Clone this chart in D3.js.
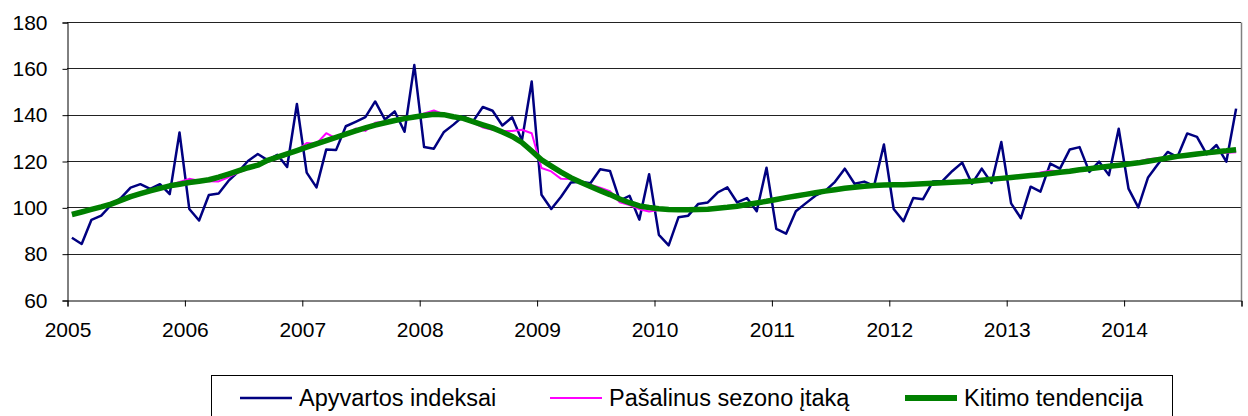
<!DOCTYPE html>
<html lang="lt">
  <head>
    <meta charset="UTF-8" />
    <title>Apyvartos indeksai</title>
    <script src="https://d3js.org/d3.v7.min.js"></script>
    <style>
      body {
        margin: 0;
        background: #fff;
        font-family: Arial, "Liberation Sans", sans-serif;
      }
      svg text {
        fill: #000;
      }
    </style>
  </head>
  <body>
    <svg id="chart" width="1248" height="416"></svg>
    <script>
      // monthly data, 2005-01 .. 2014-12
      const years = [2005, 2006, 2007, 2008, 2009, 2010, 2011, 2012, 2013, 2014];
      const yTicks = [60, 80, 100, 120, 140, 160, 180];

      const apyvarta = [
        86.9, 84.2, 94.6, 96.4, 101, 104, 108.5, 110, 108, 110, 105.7, 132.3,
        99.3, 94.3, 105.3, 106, 111.4, 115.3, 120, 123, 120.4, 122.7, 117.4, 144.6,
        115, 108.6, 125, 124.7, 135, 136.9, 138.9, 145.7, 137.9, 141.4, 132.6, 161.4,
        126, 125.3, 132.4, 135.7, 139.3, 137.1, 143.3, 141.7, 135.3, 138.9, 128.9, 154.3,
        105.4, 99.3, 104.6, 110.7, 111, 110.4, 116.4, 115.7, 102.9, 105, 94.7, 114.3,
        88.1, 83.6, 95.7, 96.4, 101.4, 102.1, 106.4, 108.6, 102.1, 104, 98.3, 117.1,
        90.7, 88.6, 98.3, 101.7, 105, 107.1, 111, 116.7, 110.2, 111.1, 109.3, 127.1,
        99.3, 94, 104, 103.5, 111.1, 111.4, 115.7, 119.3, 110.2, 116.7, 110.5, 128.2,
        101.7, 95.3, 108.9, 106.8, 118.9, 116.7, 125, 126, 115.3, 119.7, 113.9, 133.9,
        108.1, 100, 112.9, 118.6, 123.9, 121.7, 131.9, 130.4, 122.9, 126.9, 119.7, 142.6
      ];

      const besezono = [
        97.5, 98.5, 99.5, 100.5, 102, 103.5, 105, 106, 107, 108.3, 109.5, 111,
        112.3, 111.5, 111.3, 111.2, 113, 115, 116.5, 118, 119.5, 121, 122.5, 124.5,
        127.8, 127.5, 132, 129.8, 131.5, 134, 133, 136.5, 137, 137.2, 138, 139,
        140.5, 141.8, 140.2, 139, 138, 136.5, 134.5, 133.5, 133, 132.9, 133.5, 132,
        117, 115.5, 112.3, 112.2, 111.2, 109.8, 108.5, 107, 102.2, 101, 99.2, 98.2,
        98.8, 98.8, 99, 99, 99.1, 99.3, 99.5, 100, 100.6, 101.2, 101.8, 102.5,
        103.3, 104.2, 105, 105.6, 106.4, 107.2, 107.7, 108.3, 108.8, 109.2, 109.4, 109.5,
        109.6, 109.7, 109.9, 110.1, 110.3, 110.5, 110.8, 111, 111.3, 111.6, 112, 112.4,
        112.9, 113.4, 114, 115, 115.8, 115.6, 115.8, 116.3, 116.6, 117.1, 117.6, 118.2,
        118.6, 119.8, 120.8, 121.2, 121.3, 121.8, 122.4, 122.8, 123.1, 123.5, 123.6, 123.8
      ];

      const tendencija = [
        96.9, 98, 99.1, 100.2, 101.4, 103, 104.6, 105.9, 107.1, 108.2, 109.3, 110,
        110.7, 111.3, 111.9, 113, 114.3, 115.7, 117.1, 118.2, 120.3, 121.7, 123.1, 124.5,
        126, 127.4, 128.8, 130.2, 131.6, 133, 134.3, 135.5, 136.5, 137.5, 138.3, 139,
        139.6, 140.2, 140, 139.1, 138.4, 137, 135.6, 134.3, 132.5, 130.6, 128, 124.3,
        120.5, 117.8, 115.2, 112.8, 110.8, 109, 107.2, 105.5, 103.6, 102, 100.6, 99.9,
        99.4, 99.1, 99, 99, 99.1, 99.2, 99.6, 100, 100.5, 101.2, 101.9, 102.6,
        103.4, 104.2, 104.9, 105.6, 106.3, 107, 107.6, 108.2, 108.7, 109.1, 109.4, 109.6,
        109.7, 109.8, 110, 110.2, 110.4, 110.6, 110.8, 111, 111.3, 111.7, 112.1, 112.5,
        112.9, 113.3, 113.7, 114.1, 114.6, 115.1, 115.6, 116.2, 116.7, 117.2, 117.7, 118.2,
        118.7, 119.2, 119.9, 120.6, 121.3, 122, 122.5, 123, 123.5, 124, 124.4, 124.9
      ];

      const seriesNames = ["Apyvartos indeksai", "Pašalinus sezono įtaką", "Kitimo tendencija"];
      const seriesColors = ["#000080", "#ff00ff", "#008000"];
      const seriesWidths = [2.5, 2, 5.5];
      const series = [apyvarta, besezono, tendencija];

      const svg = d3.select("#chart");
      const plotLeft = 67, plotRight = 1241, plotTop = 22, plotBottom = 300;
      const fontFamily = "Arial, 'Liberation Sans', sans-serif";

      const x = d3.scaleLinear().domain([0, 120]).range([plotLeft, plotRight]);
      const y = d3.scaleLinear().domain([60, 180]).range([plotBottom, plotTop]);

      // gridlines
      svg.append("g")
        .selectAll("line")
        .data(yTicks.slice(1))
        .join("line")
        .attr("x1", plotLeft)
        .attr("x2", plotRight)
        .attr("y1", (d) => Math.round(y(d)) + 0.5)
        .attr("y2", (d) => Math.round(y(d)) + 0.5)
        .attr("stroke", "#222")
        .attr("stroke-width", 1);

      // right frame
      svg.append("line")
        .attr("x1", plotRight + 0.5).attr("x2", plotRight + 0.5)
        .attr("y1", plotTop + 0.5).attr("y2", plotBottom)
        .attr("stroke", "#808080").attr("stroke-width", 1.5);

      // y axis
      const yAxis = d3.axisLeft(y).tickValues(yTicks).tickSize(5).tickPadding(15);
      const gy = svg.append("g")
        .attr("transform", `translate(${plotLeft + 0.5},0.5)`)
        .call(yAxis);
      gy.select(".domain").attr("stroke", "#000");
      gy.selectAll(".tick line").attr("stroke", "#000");
      gy.selectAll("text")
        .attr("font-family", fontFamily)
        .attr("font-size", 21)
        .attr("fill", "#000");

      // x axis: ticks at the start of each year
      const xAxis = d3.axisBottom(x)
        .tickValues(d3.range(0, 121, 12))
        .tickSize(6)
        .tickPadding(16)
        .tickFormat((d) => (d < 120 ? years[d / 12] : ""));
      const gx = svg.append("g")
        .attr("transform", `translate(0.5,${plotBottom + 0.5})`)
        .call(xAxis);
      gx.select(".domain").attr("stroke", "#000");
      gx.selectAll(".tick line").attr("stroke", "#000");
      gx.selectAll("text")
        .attr("font-family", fontFamily)
        .attr("font-size", 21)
        .attr("fill", "#000");

      // series lines, each point in the middle of its month
      const line = d3.line()
        .x((d, i) => x(i + 0.5))
        .y((d) => y(d));

      series.forEach((s, k) => {
        svg.append("path")
          .datum(s)
          .attr("fill", "none")
          .attr("stroke", seriesColors[k])
          .attr("stroke-width", seriesWidths[k])
          .attr("stroke-linejoin", "round")
          .attr("d", line);
      });

      // legend
      const legend = svg.append("g");
      legend.append("rect")
        .attr("x", 211.5).attr("y", 375.5)
        .attr("width", 961).attr("height", 60)
        .attr("fill", "#fff").attr("stroke", "#000").attr("stroke-width", 1);

      const legendX = [240, 550, 905];
      seriesNames.forEach((name, k) => {
        legend.append("line")
          .attr("x1", legendX[k]).attr("x2", legendX[k] + 52)
          .attr("y1", 398).attr("y2", 398)
          .attr("stroke", seriesColors[k])
          .attr("stroke-width", k === 2 ? 6 : seriesWidths[k]);
        legend.append("text")
          .attr("x", legendX[k] + 59)
          .attr("y", 406)
          .attr("font-family", fontFamily)
          .attr("font-size", 23.5)
          .text(name);
      });
    </script>
  </body>
</html>
